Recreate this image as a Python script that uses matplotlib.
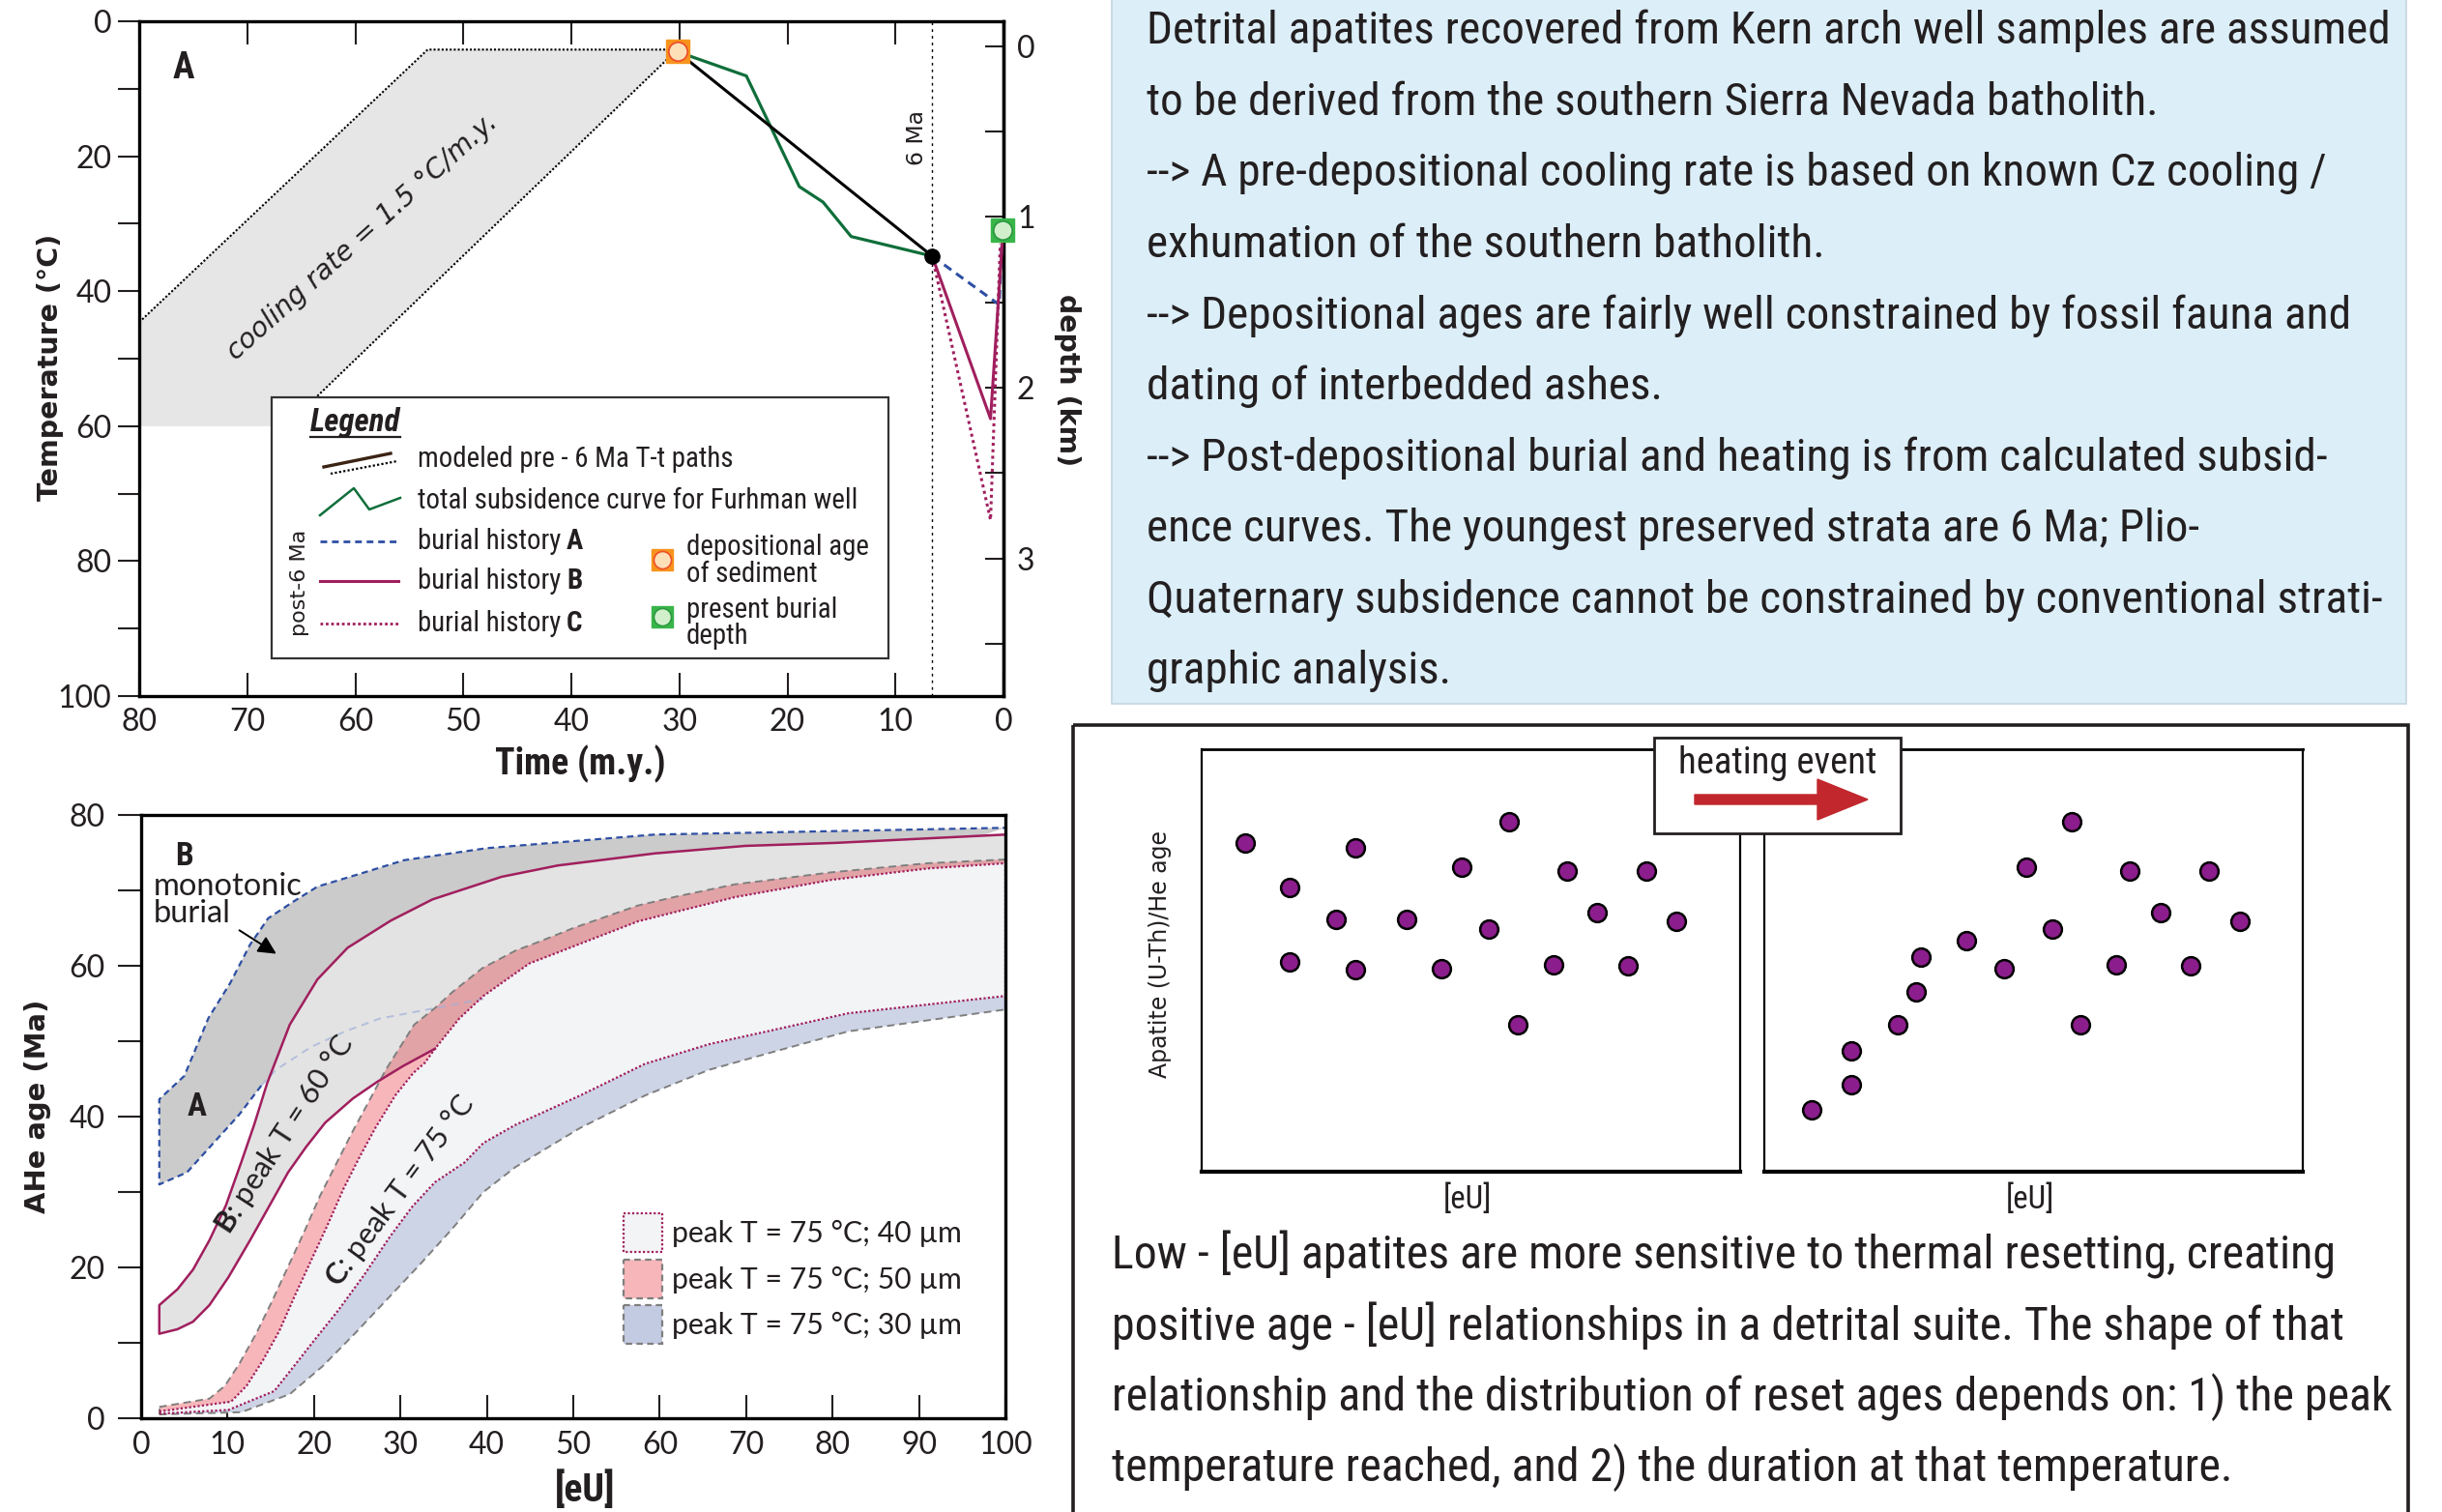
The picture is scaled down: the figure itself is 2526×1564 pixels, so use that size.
import numpy as np
import matplotlib
matplotlib.use('Agg')
import matplotlib.pyplot as plt
from matplotlib import font_manager as fm
from matplotlib.patches import Rectangle, Polygon, FancyArrow

W, H = 2526, 1564
DPI = 100

REG = ['Lato', 'DejaVu Sans']
VERD = ['DejaVu Sans']
plt.rcParams['font.family'] = REG
plt.rcParams['mathtext.fontset'] = 'custom'
plt.rcParams['mathtext.rm'] = 'Lato'
plt.rcParams['mathtext.bf'] = 'Lato:bold'
plt.rcParams['mathtext.it'] = 'Lato:italic'


def pick_condensed():
    ents = fm.fontManager.ttflist
    names = {e.name for e in ents}
    for nm in ['Liberation Sans Narrow', 'Roboto Condensed', 'Open Sans Condensed',
               'Noto Sans Condensed', 'DejaVu Sans Condensed', 'Arial Narrow', 'Lato Condensed']:
        if nm in names:
            return {'family': [nm, 'DejaVu Sans']}
    for fam in ['Roboto', 'Noto Sans', 'Open Sans', 'DejaVu Sans', 'Liberation Sans']:
        for e in ents:
            if e.name == fam and str(e.stretch) in ('condensed', 'semi-condensed', 'extra-condensed'):
                return {'family': [fam], 'fontstretch': e.stretch}
    return {'family': ['Liberation Sans', 'DejaVu Sans']}


CK = pick_condensed()

MAG = '#a01f5e'
BLUE = '#2e4fa3'
GREEN = '#0f6e3a'
TXT = '#231f20'
GRAYD = '#7f7f7f'

# ---------------- Panel A data (time in m.y., temperature in degC) ----------------
band_time = [80, 53.3, 30.2, 66.4, 80]
band_temp = [44.6, 4.2, 4.2, 60.0, 60.0]
dep_time, dep_temp = 30.2, 4.5          # depositional age of sediment
six_ma = 6.6
black_time = [30.2, 6.6]
black_temp = [4.5, 34.8]
green_time = [30.2, 23.8, 18.9, 16.7, 14.1, 6.6]
green_temp = [4.5, 8.1, 24.5, 26.8, 31.9, 34.8]
burA_time = [6.6, 0.4, 0.1]
burA_temp = [34.8, 42.0, 31.0]
burB_time = [6.6, 1.2, 0.1]
burB_temp = [34.8, 58.9, 32.5]
burC_time = [6.6, 1.2, 0.3]
burC_temp = [34.8, 73.9, 33.0]
present_time, present_temp = 0.1, 31.0
depth_ticks = [0, 1, 2, 3]

# ---------------- Panel B data ([eU] vs AHe age, Ma) ----------------
A_top_eu = [2.1, 5.0, 7.8, 10.3, 12.6, 14.7, 17.6, 20.4, 25.6, 30.4, 40.0, 59.4, 100]
A_top_age = [42.3, 45.4, 53.1, 57.7, 62.8, 66.3, 68.5, 70.5, 72.3, 74.0, 75.6, 77.4, 78.3]
A_low_eu = [2.1, 5.3, 7.9, 11.3, 13.9, 15.6, 19.6, 23.6, 27.6, 33.6, 39.6]
A_low_age = [31.0, 32.6, 35.9, 40.2, 44.1, 46.2, 49.2, 51.3, 53.0, 54.3, 55.6]

B_up_eu = [2.1, 4.2, 6.0, 7.9, 9.8, 11.6, 13.1, 14.6, 17.2, 20.4, 23.9, 28.9, 33.7, 41.7, 48.2, 59.4, 69.9, 80.4, 100]
B_up_age = [15.0, 17.1, 19.7, 23.6, 28.2, 34.0, 39.0, 44.5, 52.2, 58.2, 62.4, 66.0, 68.8, 71.8, 73.3, 74.9, 75.9, 76.3, 77.4]
B_low_eu = [2.1, 4.2, 6.0, 7.9, 10.1, 12.6, 15.0, 17.0, 19.1, 21.3, 24.5, 27.3, 30.3, 34.0]
B_low_age = [11.2, 11.8, 12.8, 15.0, 18.7, 23.6, 28.5, 32.6, 36.0, 39.2, 42.4, 44.6, 46.7, 49.0]

C50_top_eu = [2.1, 7.9, 9.7, 11.4, 13.3, 15.1, 17.0, 18.9, 20.7, 22.6, 24.5, 26.3, 28.3, 31.6, 34.0, 36.0,
              39.5, 43.3, 46.3, 50.0, 57.5, 62.0, 68.7, 79.9, 91.0, 100]
C50_top_age = [1.5, 2.6, 4.3, 7.3, 11.2, 15.4, 20.1, 24.8, 29.5, 33.8, 38.1, 41.9, 46.2, 52.2, 54.4, 56.5,
               59.7, 62.0, 63.3, 65.0, 68.0, 69.2, 70.8, 72.4, 73.6, 74.1]
C40_top_eu = [2.1, 10.4, 12.2, 14.1, 16.0, 17.8, 19.7, 21.6, 23.4, 25.3, 27.1, 29.4, 31.5, 32.8, 34.0, 36.8,
              39.6, 44.9, 57.5, 68.7, 79.9, 91.0, 100]
C40_top_age = [0.9, 2.2, 4.3, 7.7, 11.6, 16.3, 21.0, 25.7, 30.4, 34.7, 38.5, 42.8, 45.8, 47.1, 49.0, 53.0,
               56.0, 60.3, 65.9, 69.1, 71.4, 72.9, 73.6]
C40_bot_eu = [2.1, 10.1, 15.4, 17.2, 19.8, 22.8, 25.8, 28.8, 31.4, 34.0, 37.4, 39.6, 43.3, 50.8, 58.3, 65.7,
              73.2, 81.8, 100]
C40_bot_age = [0.6, 1.1, 3.6, 6.2, 10.0, 14.3, 19.0, 24.1, 28.1, 31.3, 33.9, 36.5, 38.9, 42.8, 47.0, 49.6,
               51.5, 53.7, 56.0]
C30_bot_eu = [2.1, 11.6, 17.2, 21.0, 24.7, 28.4, 32.1, 35.9, 39.6, 43.3, 50.8, 58.3, 65.7, 73.2, 81.8, 100]
C30_bot_age = [0.5, 0.8, 3.2, 6.9, 11.2, 15.7, 20.2, 25.0, 30.0, 33.3, 38.5, 42.8, 46.2, 48.6, 51.3, 54.2]

legendB_labels = ['peak T = 75 °C; 40 µm', 'peak T = 75 °C; 50 µm', 'peak T = 75 °C; 30 µm']

# ---------------- Schematic scatter data (relative [eU], relative age) ----------------
before_eu = [8.1, 28.5, 57.1, 48.3, 67.9, 82.6, 16.3, 25.0, 38.1, 53.3, 73.4, 88.2, 16.3, 28.5, 44.5, 65.4, 79.2, 58.7]
before_age = [77.8, 76.7, 82.8, 72.1, 71.2, 71.2, 67.3, 59.7, 59.7, 57.4, 61.3, 59.3, 49.7, 47.8, 48.1, 49.0, 48.7, 34.8]
after_eu = [57.1, 48.7, 67.9, 82.6, 73.6, 88.3, 53.5, 37.5, 29.1, 44.5, 65.4, 79.2, 28.2, 24.8, 58.7, 16.2, 16.2, 8.8]
after_age = [82.8, 72.1, 71.2, 71.2, 61.3, 59.3, 57.4, 54.7, 50.8, 48.1, 49.0, 48.7, 42.6, 34.8, 34.8, 28.6, 20.6, 14.6]

top_text = [
    "Detrital apatites recovered from Kern arch well samples are assumed",
    "to be derived from the southern Sierra Nevada batholith.",
    "--> A pre-depositional cooling rate is based on known Cz cooling /",
    "exhumation of the southern batholith.",
    "--> Depositional ages are fairly well constrained by fossil fauna and",
    "dating of interbedded ashes.",
    "--> Post-depositional burial and heating is from calculated subsid-",
    "ence curves. The youngest preserved strata are 6 Ma; Plio-",
    "Quaternary subsidence cannot be constrained by conventional strati-",
    "graphic analysis.",
]
bottom_text = [
    "Low - [eU] apatites are more sensitive to thermal resetting, creating",
    "positive age - [eU] relationships in a detrital suite. The shape of that",
    "relationship and the distribution of reset ages depends on: 1) the peak",
    "temperature reached, and 2) the duration at that temperature.",
]

# =====================================================================
fig = plt.figure(figsize=(W / DPI, H / DPI), dpi=DPI)
fig.patch.set_facecolor('white')


def rect(l, t, r, b):
    return [l / W, 1 - b / H, (r - l) / W, (b - t) / H]


axA = fig.add_axes(rect(144, 22, 1038, 720))
axB = fig.add_axes(rect(146, 843, 1040, 1467))
axL = fig.add_axes(rect(1243, 775, 1800, 1212))
axR = fig.add_axes(rect(1825, 775, 2382, 1212))
ov = fig.add_axes([0, 0, 1, 1])
ov.set_xlim(0, W)
ov.set_ylim(H, 0)
ov.axis('off')
ov.set_zorder(10)
ov.patch.set_alpha(0)

R = fig.canvas.get_renderer()


def fit(s, target, **kw):
    """font size giving the text string the target width (pixels)"""
    t = ov.text(0, 0, s, fontsize=20, **kw)
    w = t.get_window_extent(renderer=R).width
    t.remove()
    return 20.0 * target / w


# ---------------- Panel A ----------------
axA.fill(band_time, band_temp, color='#e6e6e6', lw=0, zorder=1)
axA.plot(band_time[:4], band_temp[:4], color='k', ls=(0, (1, 1.0)), lw=1.5, zorder=2)
axA.axvline(six_ma, color='k', ls=(0, (2, 3)), lw=1.0, zorder=2)
axA.plot(green_time, green_temp, color=GREEN, lw=2.3, zorder=3)
axA.plot(black_time, black_temp, color='k', lw=2.2, zorder=4)
axA.plot(burA_time, burA_temp, color=BLUE, ls=(0, (3, 2)), lw=2.2, zorder=4)
axA.plot(burB_time, burB_temp, color=MAG, lw=2.2, zorder=4)
axA.plot(burC_time, burC_temp, color=MAG, ls=(0, (1, 1.2)), lw=2.2, zorder=4)
axA.plot(black_time[-1], black_temp[-1], 'o', ms=11, color='k', zorder=6)
axA.plot(dep_time, dep_temp, 's', ms=17, color='#f7941d', zorder=7, clip_on=False)
axA.plot(dep_time, dep_temp, 'o', ms=14, mfc='#fde0b8', mec='#ee4f2a', mew=1.3, zorder=8, clip_on=False)
axA.plot(present_time, present_temp, 's', ms=17, color='#39b54a', zorder=7, clip_on=False)
axA.plot(present_time, present_temp, 'o', ms=14, mfc='#d2efcc', mec='#2a9a40', mew=1.3, zorder=8, clip_on=False)

axA.set_xlim(80, 0)
axA.set_ylim(100, 0)
axA.set_xticks(np.arange(0, 81, 10))
axA.set_yticks(np.arange(0, 101, 20))
axA.set_yticks(np.arange(10, 100, 20), minor=True)
axA.tick_params(axis='x', which='both', direction='in', length=17, width=1.5, top=True,
                labeltop=False, labelsize=23, pad=9, colors=TXT)
axA.tick_params(axis='y', which='both', direction='out', length=15.5, width=1.5, right=False,
                labelsize=23, pad=5, colors=TXT)
for s in axA.spines.values():
    s.set_linewidth(2.4)


def t2d(T):
    return (np.asarray(T, dtype=float) - 3.7) / 25.3


def d2t(d):
    return np.asarray(d, dtype=float) * 25.3 + 3.7


sec = axA.secondary_yaxis('right', functions=(t2d, d2t))
sec.set_yticks(depth_ticks)
sec.set_yticks([0.5, 1.5, 2.5, 3.5], minor=True)
sec.tick_params(which='both', direction='in', length=14, width=1.5, labelsize=23, pad=10, colors=TXT)
sec.spines['right'].set_linewidth(2.4)

axA.text(75.9, 6.9, 'A', weight='bold', fontsize=27, ha='center', va='center', color=TXT, **CK)
axA.text(8.0, 17.2, '6 Ma', family=VERD, fontsize=fit('6 Ma', 57, family=VERD), rotation=90,
         ha='center', va='center', color=TXT)
cr = 'cooling rate = 1.5 °C/m.y.'
axA.text(59.4, 31.9, cr, family=VERD, style='italic',
         fontsize=fit(cr, 365, family=VERD, style='italic'),
         rotation=42, rotation_mode='anchor', ha='center', va='center', color=TXT)

for s, x, y, tw, rot in [('Temperature (°C)', 52, 380, 277, 90), ('depth (km)', 1104, 393, 178, -90),
                         ('AHe age (Ma)', 39, 1144, 222, 90)]:
    ov.text(x, y, s, family=VERD, weight='bold', fontsize=fit(s, tw, family=VERD, weight='bold'),
            rotation=rot, ha='center', va='center', color=TXT)
ov.text(600, 790, 'Time (m.y.)', weight='bold', fontsize=fit('Time (m.y.)', 176, weight='bold', **CK),
        ha='center', va='center', color=TXT, **CK)

# legend of panel A (drawn as a box)
ov.add_patch(Rectangle((281, 411), 638, 270, fc='white', ec='#333333', lw=1.6, zorder=1))
ov.text(321, 437, 'Legend', weight='bold', style='italic',
        fontsize=fit('Legend', 93, weight='bold', style='italic', **CK),
        ha='left', va='center', color=TXT, **CK)
ov.plot([321, 414], [452, 452], color=TXT, lw=1.6)
ov.plot([335, 404], [483, 469], color='#3b2314', lw=2.4)
ov.plot([342, 411], [490, 477], color='k', lw=1.6, ls=(0, (1, 1)))
ov.plot([331, 366, 382, 414], [533, 505, 527, 515], color=GREEN, lw=1.8)
ov.plot([331, 412], [560, 560], color=BLUE, lw=2.0, ls=(0, (2.5, 1.8)))
ov.plot([331, 412], [601, 601], color=MAG, lw=2.2)
ov.plot([331, 412], [645, 645], color=MAG, lw=2.0, ls=(0, (1, 1)))
ov.text(310, 603, 'post-6 Ma', family=VERD, fontsize=fit('post-6 Ma', 110, family=VERD), rotation=90,
        ha='center', va='center', color=TXT)

LEGFS = 0.5 * (fit('total subsidence curve for Furhman well', 454, **CK) +
               fit('modeled pre - 6 Ma T-t paths', 325, **CK))
ov.text(432, 475, 'modeled pre - 6 Ma T-t paths', fontsize=LEGFS, ha='left', va='center', color=TXT, **CK)
ov.text(432, 518, 'total subsidence curve for Furhman well', fontsize=LEGFS, ha='left', va='center',
        color=TXT, **CK)
for yy, letter in zip([560, 601, 645], ['A', 'B', 'C']):
    t1 = ov.text(432, yy, 'burial history', fontsize=LEGFS, ha='left', va='center', color=TXT, **CK)
    bb = t1.get_window_extent(renderer=R)
    ov.text(bb.x1 + 0.28 * LEGFS, yy, letter, weight='bold', fontsize=LEGFS, ha='left', va='center',
            color=TXT, **CK)
ov.plot(685, 579, 's', ms=16, color='#f7941d')
ov.plot(685, 579, 'o', ms=13, mfc='#fde0b8', mec='#ee4f2a', mew=1.2)
ov.plot(685, 638, 's', ms=16, color='#39b54a')
ov.plot(685, 638, 'o', ms=13, mfc='#d2efcc', mec='#2a9a40', mew=1.2)
for s, y in [('depositional age', 566), ('of sediment', 594), ('present burial', 631), ('depth', 658)]:
    ov.text(710, y, s, fontsize=LEGFS, ha='left', va='center', color=TXT, **CK)

# ---------------- Panel B ----------------
axB.fill(A_top_eu + A_low_eu[::-1], A_top_age + A_low_age[::-1], color='#cbcbcb', lw=0, zorder=1)
c40t_eu = np.array(C40_top_eu)
c40t_age = np.array(C40_top_age)
mtop = c40t_eu >= 34
Bx = list(B_up_eu) + list(c40t_eu[mtop][::-1]) + list(B_low_eu[::-1])
By = list(B_up_age) + list(c40t_age[mtop][::-1]) + list(B_low_age[::-1])
Bpatch = Polygon(np.column_stack([Bx, By]), closed=True, fc='#e3e3e3', ec='none', zorder=2)
axB.add_patch(Bpatch)
axB.fill(C40_bot_eu + C30_bot_eu[::-1], C40_bot_age + C30_bot_age[::-1], color='#cdd4e6', lw=0, zorder=3)
axB.fill(C40_top_eu + C40_bot_eu[::-1], C40_top_age + C40_bot_age[::-1], color='#f3f4f6', lw=0, zorder=3)
axB.fill(C50_top_eu + C40_top_eu[::-1], C50_top_age + C40_top_age[::-1], color='#f7b7ba', lw=0, zorder=4)
dark = axB.fill(C50_top_eu + C40_top_eu[::-1], C50_top_age + C40_top_age[::-1], color='#e2a3a6', lw=0,
                zorder=5)[0]
dark.set_clip_path(Bpatch)

a_low_eu = np.array(A_low_eu)
a_low_age = np.array(A_low_age)
vis = a_low_eu <= 13.9
faint = a_low_eu >= 13.9
axB.plot(a_low_eu[faint], a_low_age[faint], color='#9fb0d8', lw=1.4,
         ls=(0, (4, 3)), alpha=0.7, zorder=6)
axB.plot(list(a_low_eu[vis][::-1]) + A_top_eu, list(a_low_age[vis][::-1]) + A_top_age,
         color=BLUE, lw=1.6, ls=(0, (3, 2)), zorder=8)
axB.plot(C50_top_eu, C50_top_age, color=GRAYD, lw=1.4, ls=(0, (4, 2.5)), zorder=7)
axB.plot(C30_bot_eu, C30_bot_age, color=GRAYD, lw=1.4, ls=(0, (4, 2.5)), zorder=7)
axB.plot([C30_bot_eu[-1], C40_bot_eu[-1]], [C30_bot_age[-1], C40_bot_age[-1]], color=GRAYD, lw=1.4,
         ls=(0, (3, 2)), zorder=7)
axB.plot([C30_bot_eu[0], C50_top_eu[0]], [C30_bot_age[0], C50_top_age[0]], color=GRAYD, lw=1.4,
         ls=(0, (3, 2)), zorder=7)
axB.plot(C40_top_eu, C40_top_age, color=MAG, lw=1.6, ls=(0, (1, 1)), zorder=7)
axB.plot(C40_bot_eu, C40_bot_age, color=MAG, lw=1.6, ls=(0, (1, 1)), zorder=7)
axB.plot([C40_bot_eu[-1], C40_top_eu[-1]], [C40_bot_age[-1], C40_top_age[-1]], color=MAG, lw=1.6,
         ls=(0, (1, 1)), zorder=7)
axB.plot(list(B_low_eu[::-1]) + B_up_eu, list(B_low_age[::-1]) + B_up_age, color=MAG, lw=1.8, zorder=8)

axB.set_xlim(0, 100)
axB.set_ylim(0, 80)
axB.set_xticks(np.arange(0, 101, 10))
axB.set_yticks(np.arange(0, 81, 20))
axB.set_yticks(np.arange(10, 80, 20), minor=True)
axB.tick_params(axis='x', which='both', direction='in', length=17, width=1.5, labelsize=23, pad=9, colors=TXT)
axB.tick_params(axis='y', which='both', direction='out', length=17, width=1.5, labelsize=23, pad=10, colors=TXT)
for s in axB.spines.values():
    s.set_linewidth(2.4)
    s.set_zorder(12)

axB.text(5.0, 74.5, 'B', weight='bold', fontsize=24, ha='center', va='center', color=TXT, zorder=10, **CK)
mfs = fit('monotonic', 154)
axB.text(1.4, 69.4, 'monotonic', fontsize=mfs, ha='left', va='baseline', color=TXT, zorder=10)
axB.text(1.4, 65.8, 'burial', fontsize=mfs, ha='left', va='baseline', color=TXT, zorder=10)
axB.annotate('', xy=(15.9, 61.4), xytext=(11.1, 64.9),
             arrowprops=dict(arrowstyle='-|>', color='k', lw=1.4, mutation_scale=28), zorder=10)
axB.text(6.4, 41.3, 'A', weight='bold', fontsize=24, ha='center', va='center', color=TXT, zorder=10, **CK)
sB = r'$\mathbf{B}$: peak T = 60 °C'
sC = r'$\mathbf{C}$: peak T = 75 °C'
axB.text(16.6, 37.6, sB, fontsize=fit(sB, 238), rotation=57, rotation_mode='anchor',
         ha='center', va='center', color=TXT, zorder=10)
axB.text(29.9, 30.2, sC, fontsize=fit(sC, 238), rotation=53.5, rotation_mode='anchor',
         ha='center', va='center', color=TXT, zorder=10)

ov.text(605, 1541, '[eU]', weight='bold', fontsize=fit('[eU]', 62, weight='bold', **CK),
        ha='center', va='center', color=TXT, **CK)

leg_fc = ['#f3f4f6', '#f7b7ba', '#c3cbe2']
leg_ec = [MAG, GRAYD, GRAYD]
leg_ls = [(0, (1, 1)), (0, (3, 2)), (0, (3, 2))]
lfs = fit(legendB_labels[0], 300)
for i, (lab, fc, ec, ls) in enumerate(zip(legendB_labels, leg_fc, leg_ec, leg_ls)):
    y0 = 1255 + i * 47.5
    ov.add_patch(Rectangle((645, y0), 40, 40, fc=fc, ec=ec, lw=1.6, ls=ls))
    ov.text(695, y0 + 21, lab, fontsize=lfs, ha='left', va='center', color=TXT)

# ---------------- Right side: text boxes ----------------
ov.add_patch(Rectangle((1150, -10), 1339, 738, fc='#dceef8', ec='#c5d6e0', lw=1.2, zorder=0))
tfs = 0.5 * (fit(top_text[0], 1276, **CK) + fit(top_text[8], 1284, **CK))
for i, s in enumerate(top_text):
    ov.text(1186, 32 + i * 73.6, s, fontsize=tfs, ha='left', va='center', color=TXT, **CK)

ov.add_patch(Rectangle((1110, 750), 1381, 840, fc='none', ec=TXT, lw=2.6, zorder=0))
bfs = 0.5 * (fit(bottom_text[2], 1315, **CK) + fit(bottom_text[0], 1266, **CK))
for i, s in enumerate(bottom_text):
    ov.text(1150, 1298 + i * 73.5, s, fontsize=bfs, ha='left', va='center', color=TXT, **CK)

# schematic scatter panels
for ax, xs, ys in [(axL, before_eu, before_age), (axR, after_eu, after_age)]:
    ax.plot(xs, ys, 'o', ms=13.5, mfc='#8c1d8c', mec='k', mew=1.8, ls='none')
    ax.set_xlim(0, 100)
    ax.set_ylim(0, 100)
    ax.set_xticks([])
    ax.set_yticks([])
    ax.spines['top'].set_linewidth(2.0)
    ax.spines['bottom'].set_linewidth(3.0)
    ax.spines['left'].set_linewidth(1.6)
    ax.spines['right'].set_linewidth(1.6)

ov.text(1200, 987, 'Apatite (U-Th)/He age', family=VERD,
        fontsize=fit('Apatite (U-Th)/He age', 256, family=VERD), rotation=90,
        ha='center', va='center', color=TXT)
efs = fit('[eU]', 50, **CK)
ov.text(1518, 1241, '[eU]', fontsize=efs, ha='center', va='center', color=TXT, **CK)
ov.text(2100, 1241, '[eU]', fontsize=efs, ha='center', va='center', color=TXT, **CK)

ov.add_patch(Rectangle((1711, 763), 255, 99, fc='white', ec=TXT, lw=2.0, zorder=3))
ov.text(1839, 790, 'heating event', fontsize=fit('heating event', 205, **CK), ha='center', va='center',
        color=TXT, zorder=4, **CK)
ov.add_patch(FancyArrow(1753, 827, 179, 0, width=10, head_width=42, head_length=52,
                        length_includes_head=True, color='#c1272d', zorder=4))

fig.savefig('out.png', dpi=DPI)
